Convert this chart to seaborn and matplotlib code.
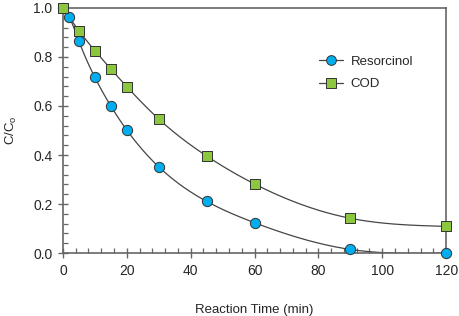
import numpy as np
import pandas as pd
import matplotlib
matplotlib.use("Agg")
import matplotlib.pyplot as plt
from matplotlib.lines import Line2D
from matplotlib.ticker import MultipleLocator
import seaborn as sns

# Dades llegides del gràfic
time_res = [0, 2, 5, 10, 15, 20, 30, 45, 60, 90, 120]
resorcinol = [1.0, 0.962, 0.865, 0.717, 0.600, 0.502, 0.352, 0.211, 0.124, 0.015, 0.0]

time_cod = [0, 5, 10, 15, 20, 30, 45, 60, 90, 120]
cod = [1.0, 0.907, 0.826, 0.751, 0.679, 0.547, 0.396, 0.282, 0.142, 0.109]

blue = "#00aeef"
green = "#8dc63f"
line_col = "#454545"


def smooth_curve(x, y, n=300):
    # spline cubica natural per dibuixar la linia suau
    x = np.asarray(x, float)
    y = np.asarray(y, float)
    h = np.diff(x)
    m = len(x)
    A = np.zeros((m, m))
    b = np.zeros(m)
    A[0, 0] = A[-1, -1] = 1
    for i in range(1, m - 1):
        A[i, i - 1] = h[i - 1]
        A[i, i] = 2 * (h[i - 1] + h[i])
        A[i, i + 1] = h[i]
        b[i] = 6 * ((y[i + 1] - y[i]) / h[i] - (y[i] - y[i - 1]) / h[i - 1])
    M = np.linalg.solve(A, b)
    xs = np.linspace(x[0], x[-1], n)
    idx = np.clip(np.searchsorted(x, xs) - 1, 0, m - 2)
    x0, x1 = x[idx], x[idx + 1]
    hh = x1 - x0
    ys = (M[idx] * (x1 - xs) ** 3 / (6 * hh) + M[idx + 1] * (xs - x0) ** 3 / (6 * hh)
          + (y[idx] / hh - M[idx] * hh / 6) * (x1 - xs)
          + (y[idx + 1] / hh - M[idx + 1] * hh / 6) * (xs - x0))
    return xs, ys


sns.set_style("white")
plt.rcParams["font.family"] = ["Liberation Sans", "DejaVu Sans"]
plt.rcParams["mathtext.default"] = "regular"

fig = plt.figure(figsize=(4.59, 3.16), dpi=100)
ax = fig.add_axes([0.137, 0.199, 0.835, 0.776])

# linies suaus
for tx, vals in [(time_res, resorcinol), (time_cod, cod)]:
    xs, ys = smooth_curve(tx, vals)
    sns.lineplot(x=xs, y=ys, ax=ax, color=line_col, linewidth=0.9, legend=False)

df_res = pd.DataFrame({"t": time_res, "c": resorcinol})
df_cod = pd.DataFrame({"t": time_cod, "c": cod})
sns.scatterplot(data=df_res, x="t", y="c", ax=ax, marker="o", s=55,
                color=blue, edgecolor="#333333", linewidth=0.7, zorder=3, clip_on=False)
sns.scatterplot(data=df_cod, x="t", y="c", ax=ax, marker="s", s=55,
                color=green, edgecolor="#333333", linewidth=0.7, zorder=4, clip_on=False)

ax.set_xlim(0, 120)
ax.set_ylim(0, 1.0)
ax.xaxis.set_major_locator(MultipleLocator(20))
ax.xaxis.set_minor_locator(MultipleLocator(4))
ax.yaxis.set_major_locator(MultipleLocator(0.2))
ax.yaxis.set_minor_locator(MultipleLocator(0.04))
ax.yaxis.set_major_formatter(plt.FormatStrFormatter("%.1f"))

spine_col = "#666666"
for s in ax.spines.values():
    s.set_visible(True)
    s.set_color(spine_col)
    s.set_linewidth(1.2)

ax.tick_params(which="major", direction="inout", length=7, width=1, color=spine_col,
               labelsize=10, pad=4, bottom=True, left=True)
ax.tick_params(which="minor", direction="in", length=3.5, width=0.9, color=spine_col,
               bottom=True, left=True)

ax.set_xlabel("Reaction Time (min)", fontsize=9.5, labelpad=19)
ax.set_ylabel("C/C$_o$", fontsize=9.5, labelpad=10)

handles = [
    Line2D([], [], color=line_col, linewidth=0.9, marker="o", markersize=7,
           markerfacecolor=blue, markeredgecolor="#333333", markeredgewidth=0.7),
    Line2D([], [], color=line_col, linewidth=0.9, marker="s", markersize=6.5,
           markerfacecolor=green, markeredgecolor="#333333", markeredgewidth=0.7),
]
ax.legend(handles, ["Resorcinol", "COD"], loc="upper left", bbox_to_anchor=(0.637, 0.855),
          frameon=False, fontsize=9.5, handlelength=1.8, handletextpad=0.6, labelspacing=0.8)

fig.savefig("out.png", dpi=100)
